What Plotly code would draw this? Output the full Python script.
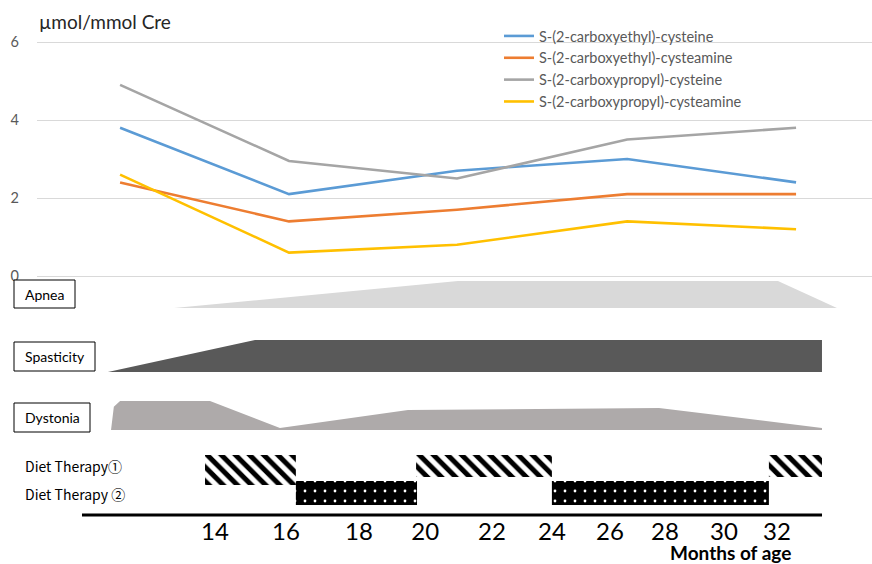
import plotly.graph_objects as go

# ---------------- data ----------------
series_names = [
    "S-(2-carboxyethyl)-cysteine",
    "S-(2-carboxyethyl)-cysteamine",
    "S-(2-carboxypropyl)-cysteine",
    "S-(2-carboxypropyl)-cysteamine",
]
series_colors = ["#5B9BD5", "#ED7D31", "#A5A5A5", "#FFC000"]

sample_age = [10.96, 16.37, 21.75, 27.20, 32.61]
ce_cysteine = [3.8, 2.1, 2.7, 3.0, 2.4]
ce_cysteamine = [2.4, 1.4, 1.7, 2.1, 2.1]
cp_cysteine = [4.9, 2.95, 2.5, 3.5, 3.8]
cp_cysteamine = [2.6, 0.6, 0.8, 1.4, 1.2]

tick_pos = [14.0, 16.27, 18.61, 20.73, 22.87, 24.79, 26.65, 28.41, 30.30, 32.0]
tick_labels = ["14", "16", "18", "20", "22", "24", "26", "28", "30", "32"]

y_ticks = [0, 2, 4, 6]

# symptom severity (0..1 of row height) over age
apnea_x = [12.69, 21.78, 32.03, 33.92]
apnea_level = [0, 1, 1, 0]
spasticity_x = [10.57, 15.28, 33.44, 33.44]
spasticity_level = [0, 1, 1, 0]
dystonia_x = [10.67, 10.76, 10.96, 13.84, 16.08, 20.18, 28.22, 33.44, 33.44]
dystonia_level = [0, 0.8, 1, 1, 0.07, 0.69, 0.76, 0.07, 0]

# diet therapy periods (months)
diet1_start = [13.68, 20.44, 31.74]
diet1_end = [16.59, 24.79, 33.44]
diet2_start = [16.59, 24.79]
diet2_end = [20.47, 31.74]

# ---------------- layout helpers ----------------
W, H = 872, 564


def px(x):
    return x / W


def py(y):
    return 1 - y / H


FONT = "Lato"

fig = go.Figure()

# line chart
for name, col, vals in zip(series_names, series_colors,
                           [ce_cysteine, ce_cysteamine, cp_cysteine, cp_cysteamine]):
    fig.add_trace(go.Scatter(
        x=sample_age, y=vals, name=name, mode="lines",
        line=dict(color=col, width=2.6),
        xaxis="x2", yaxis="y",
    ))

# symptom rows (y2 units: pixels up from the bottom of the lower panel)
rows = [
    (apnea_x, apnea_level, 256, 27, "#D9D9D9"),
    (spasticity_x, spasticity_level, 192, 32, "#595959"),
    (dystonia_x, dystonia_level, 134, 29, "#AEAAAA"),
]
for xs, lv, base, h, col in rows:
    fig.add_trace(go.Scatter(
        x=xs, y=[base + h * v for v in lv], mode="lines",
        fill="toself", fillcolor=col, line=dict(width=0, color=col),
        showlegend=False, hoverinfo="skip", xaxis="x", yaxis="y2",
    ))

# diet therapy bars
fig.add_trace(go.Bar(
    orientation="h",
    y=[94, 98, 98],
    width=[30, 22, 22],
    base=diet1_start,
    x=[e - s for s, e in zip(diet1_start, diet1_end)],
    marker=dict(color="white", line=dict(width=0), opacity=1,
                pattern=dict(shape="\\", fgcolor="#000000", bgcolor="#FFFFFF",
                             fgopacity=1, fillmode="replace",
                             size=10, solidity=0.5)),
    showlegend=False, hoverinfo="skip", xaxis="x", yaxis="y2",
))
fig.add_trace(go.Bar(
    orientation="h",
    y=[71, 71],
    width=[24, 24],
    base=diet2_start,
    x=[e - s for s, e in zip(diet2_start, diet2_end)],
    marker=dict(color="black", line=dict(width=0), opacity=1,
                pattern=dict(shape=".", fgcolor="white", bgcolor="black",
                             fgopacity=1, fillmode="replace",
                             size=10, solidity=0.06)),
    showlegend=False, hoverinfo="skip", xaxis="x", yaxis="y2",
))

shapes = [
    dict(type="line", xref="x", yref="y2", x0=9.740, x1=33.441, y0=49, y1=49,
         line=dict(color="black", width=3)),
]
box_specs = [
    ("Apnea", 14, 75, 280, 308),
    ("Spasticity", 14, 95, 342, 371),
    ("Dystonia", 14, 90, 403, 432),
]
annotations = []
for label, x0, x1, y0, y1 in box_specs:
    shapes.append(dict(type="rect", xref="paper", yref="paper",
                       x0=px(x0), x1=px(x1), y0=py(y0), y1=py(y1),
                       fillcolor="white", line=dict(color="black", width=1),
                       layer="above"))
    annotations.append(dict(text=label, xref="paper", yref="paper",
                            x=px((x0 + x1) / 2), y=py((y0 + y1) / 2),
                            xanchor="center", yanchor="middle", showarrow=False,
                            font=dict(family=FONT, size=14, color="black")))

annotations += [
    dict(text="µmol/mmol Cre", xref="paper", yref="paper", x=px(105), y=py(21),
         xanchor="center", yanchor="middle", showarrow=False,
         font=dict(family=FONT, size=19, color="#262626")),
    dict(text="<b>Months of age</b>", xref="paper", yref="paper", x=px(730), y=py(552),
         xanchor="center", yanchor="middle", showarrow=False,
         font=dict(family=FONT, size=19, color="black")),
    dict(text="Diet Therapy①", xref="paper", yref="paper", x=px(73), y=py(466),
         xanchor="center", yanchor="middle", showarrow=False,
         font=dict(family="Noto Sans CJK JP", size=14, color="black")),
    dict(text="Diet Therapy ②", xref="paper", yref="paper", x=px(75), y=py(494),
         xanchor="center", yanchor="middle", showarrow=False,
         font=dict(family="Noto Sans CJK JP", size=14, color="black")),
]

# small padding of the value range so the 0 and 6 gridlines are drawn
pad = 0.03
unit_px = 39.0

fig.update_layout(
    width=W, height=H,
    margin=dict(l=0, r=0, t=0, b=0, pad=0, autoexpand=False),
    paper_bgcolor="white", plot_bgcolor="white",
    barmode="overlay",
    font=dict(family=FONT),
    xaxis=dict(domain=[0, 1], range=[7.114, 35.042], anchor="free", position=py(515),
               showline=False, showgrid=False, zeroline=False, automargin=False,
               tickmode="array", tickvals=tick_pos, ticktext=tick_labels,
               ticks="", tickfont=dict(family=FONT, size=24, color="black"),
               ticklabelstandoff=0, fixedrange=True),
    yaxis2=dict(domain=[0, py(276)], range=[0, 288], anchor="x", visible=False,
                automargin=False),
    xaxis2=dict(domain=[px(37), 1], range=[8.299, 35.042], anchor="y", visible=False,
                automargin=False),
    yaxis=dict(domain=[py(276 + pad * unit_px), py(42 - pad * unit_px)],
               range=[-pad, 6 + pad], anchor="x2",
               tickmode="array", tickvals=y_ticks, automargin=False,
               showgrid=True, gridcolor="#D9D9D9", gridwidth=1,
               zeroline=False, showline=False, ticks="",
               tickfont=dict(family=FONT, size=14.5, color="#595959"),
               ticklabelstandoff=17),
    legend=dict(x=px(499), y=py(20), xanchor="left", yanchor="top",
                bgcolor="rgba(0,0,0,0)", font=dict(family=FONT, size=14.5, color="#595959"),
                tracegroupgap=0, itemwidth=30),
    shapes=shapes,
    annotations=annotations,
)

fig.write_html("out.html",
               config={"displayModeBar": False},
               post_script="document.body.style.margin='0';document.body.style.padding='0';")
